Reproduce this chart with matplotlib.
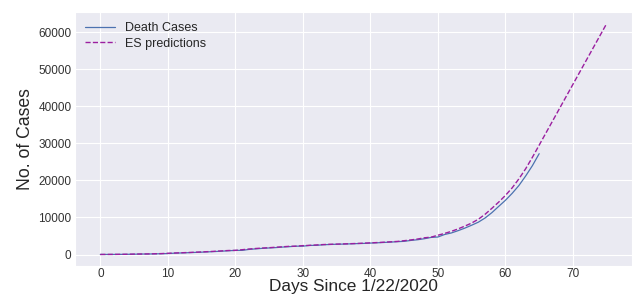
import numpy as np
import matplotlib
matplotlib.use("Agg")
import matplotlib.pyplot as plt
import seaborn as sns

# global death cases since 1/22/2020
days = list(range(66))
deaths = [17, 18, 26, 42, 56, 82, 131, 133, 171, 213,
          259, 362, 426, 492, 564, 634, 719, 806, 906, 1013,
          1113, 1118, 1371, 1523, 1666, 1770, 1868, 2007, 2122, 2247,
          2251, 2458, 2469, 2629, 2708, 2770, 2814, 2872, 2941, 2996,
          3085, 3160, 3254, 3348, 3460, 3558, 3802, 3988, 4262, 4615,
          4720, 5404, 5819, 6440, 7126, 7905, 8733, 9867, 11299, 12973,
          14623, 16497, 18615, 21181, 23970, 27198]

# exponential smoothing predictions (fit + 10 day forecast)
pred_days = list(range(76))
es_pred = [18, 24, 37, 52, 74, 116, 132, 160, 200, 245,
           331, 407, 472, 542, 613, 694, 780, 876, 981, 1083,
           1117, 1295, 1477, 1623, 1739, 1839, 1965, 2088, 2210, 2250,
           2396, 2466, 2581, 2684, 2751, 2801, 2855, 2920, 2980, 3058,
           3138, 3226, 3320, 3426, 3529, 3729, 3932, 4180, 4509, 4689,
           5199, 5695, 6254, 6920, 7671, 8485, 9527, 10869, 12471, 14128,
           15935, 17980, 20411, 23133, 26230, 29500,
           32780, 36060, 39340, 42620, 45900, 49180, 52460, 55740, 59020, 62300]

sns.set_style('darkgrid')
plt.rcParams['font.family'] = ['Liberation Sans', 'DejaVu Sans']

fig = plt.figure(figsize=(6.34, 2.96), dpi=100)
ax = fig.add_axes([75/634, 1 - 266/296, 557/634, 254/296])

ax.plot(days, deaths, color='#4c72b0', linewidth=0.9, label='Death Cases')
ax.plot(pred_days, es_pred, color='#9b1fa0', linewidth=1.0, linestyle='--', label='ES predictions')

ax.set_xlabel('Days Since 1/22/2020', fontsize=12.4, labelpad=-0.6)
ax.set_ylabel('No. of Cases', fontsize=12.7, labelpad=3)
ax.tick_params(labelsize=8.5, length=0, pad=2.5, colors='#333333')
ax.tick_params(axis='x', pad=1.2)
ax.set_yticks([0, 10000, 20000, 30000, 40000, 50000, 60000])
ax.legend(loc='upper left', fontsize=9, frameon=False, handlelength=2.4,
          labelspacing=0.3, borderaxespad=0.4)

fig.savefig('out.png', dpi=100)
